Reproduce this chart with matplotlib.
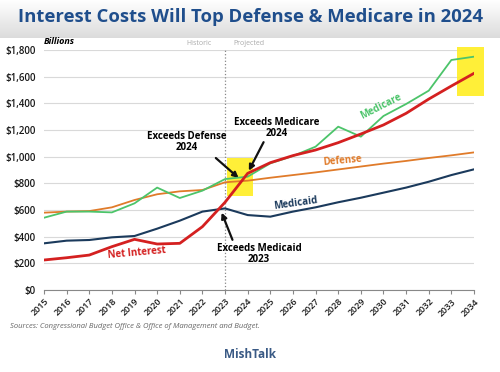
import numpy as np
import matplotlib
matplotlib.use("Agg")
import matplotlib.pyplot as plt
from matplotlib.patches import Rectangle

years = list(range(2015, 2035))
net_interest = [225, 242, 262, 325, 380, 345, 350, 475, 658, 875, 955, 1008, 1050, 1105, 1170, 1238, 1325, 1432, 1530, 1625]
medicare = [542, 588, 588, 582, 650, 768, 690, 745, 832, 850, 950, 1005, 1075, 1225, 1150, 1305, 1395, 1495, 1725, 1750]
defense = [580, 588, 592, 620, 675, 718, 740, 750, 808, 820, 842, 862, 882, 904, 926, 948, 968, 990, 1010, 1032]
medicaid = [350, 370, 375, 395, 405, 460, 520, 588, 612, 562, 550, 588, 620, 658, 692, 730, 768, 812, 862, 905]
yticks = list(range(0, 1801, 200))

plt.rcParams['font.family'] = ['Open Sans', 'DejaVu Sans']

fig = plt.figure(figsize=(5, 3.72), dpi=100)

# title band gradient
band = fig.add_axes([0, 1 - 38/372, 1, 38/372])
grad = np.linspace(1.0, 0.86, 100).reshape(-1, 1)
band.imshow(np.dstack([grad, grad, grad]), aspect='auto', extent=[0, 1, 0, 1])
band.axis('off')
fig.text(0.5, 1 - 17/372, "Interest Costs Will Top Defense & Medicare in 2024",
         ha='center', va='center', fontsize=13.3, fontweight='bold', color='#1f4e8c')

ax = fig.add_axes([44/500, 1 - 290/372, 430/500, 240/372])
ax.plot(years, defense, color='#e07b2a', lw=1.3, zorder=3)
ax.plot(years, medicaid, color='#1b3a5c', lw=1.5, zorder=3)
ax.plot(years, medicare, color='#4cc46a', lw=1.3, zorder=4)
ax.plot(years, net_interest, color='#d42020', lw=2.0, zorder=5)

ax.add_patch(Rectangle((2023.1, 707), 1.15, 280, color='#ffee22', alpha=0.9, zorder=2, lw=0))
ax.add_patch(Rectangle((2033.25, 1457), 1.2, 368, color='#ffee22', alpha=0.9, zorder=2, lw=0, clip_on=False))

ax.axvline(2023, color='#888888', ls=':', lw=0.9, zorder=1)

ax.set_xlim(2015, 2034)
ax.set_ylim(0, 1800)
ax.set_yticks(yticks)
ax.set_yticklabels([f"${v:,}" for v in yticks], fontsize=7, color='#1a1a1a', fontweight='semibold')
ax.set_xticks(years)
ax.set_xticklabels([str(y) for y in years], rotation=45, fontsize=6.5, color='#1a1a1a',
                   ha='right', rotation_mode='anchor', fontweight='semibold')
ax.yaxis.grid(True, color='#d9d9d9', lw=0.8)
ax.set_axisbelow(True)
for s in ['top', 'right', 'left']:
    ax.spines[s].set_visible(False)
ax.spines['bottom'].set_color('#888888')
ax.tick_params(axis='y', length=0, pad=6)
ax.tick_params(axis='x', length=3, color='#888888', pad=2)

ax.text(2015, 1830, "Billions", fontsize=6.5, style='italic', fontweight='bold', va='bottom', ha='left')
ax.text(2022.4, 1820, "Historic", fontsize=5, color='#aaaaaa', ha='right', va='bottom')
ax.text(2023.35, 1820, "Projected", fontsize=5, color='#aaaaaa', ha='left', va='bottom')

ax.text(2019.1, 278, "Net Interest", color='#d42020', fontsize=7, fontweight='bold', ha='center', va='center', rotation=5)
ax.text(2026.1, 652, "Medicaid", color='#1b3a5c', fontsize=7, fontweight='bold', ha='center', va='center', rotation=8)
ax.text(2028.2, 968, "Defense", color='#e07b2a', fontsize=7, fontweight='bold', ha='center', va='center', rotation=5)
ax.text(2029.9, 1372, "Medicare", color='#4cc46a', fontsize=7, fontweight='bold', ha='center', va='center', rotation=27)

arrow = dict(arrowstyle='-|>', color='#111111', lw=1.6, mutation_scale=8)
ax.annotate("Exceeds Defense\n2024", xy=(2023.6, 840), xytext=(2021.3, 1110),
            ha='center', va='center', fontsize=7, fontweight='bold', linespacing=1.1,
            arrowprops=dict(arrow, shrinkA=2, shrinkB=0, relpos=(0.72, 0.25)))
ax.annotate("Exceeds Medicare\n2024", xy=(2024.05, 895), xytext=(2025.3, 1215),
            ha='center', va='center', fontsize=7, fontweight='bold', linespacing=1.1,
            arrowprops=dict(arrow, shrinkA=0, shrinkB=0, relpos=(0.4, 0.3)))
ax.annotate("Exceeds Medicaid\n2023", xy=(2022.85, 580), xytext=(2024.5, 270),
            ha='center', va='center', fontsize=7, fontweight='bold', linespacing=1.1,
            arrowprops=dict(arrow, shrinkA=0, shrinkB=0, relpos=(0.2, 1.0)))

fig.text(10/500, 1 - 327/372, "Sources: Congressional Budget Office & Office of Management and Budget.",
         fontsize=5.5, style='italic', color='#666666', va='center', ha='left')
fig.text(0.5, 1 - 354/372, "MishTalk", fontsize=8.5, fontweight='bold', color='#3a5a85', ha='center', va='center')

fig.savefig("out.png", dpi=100)
